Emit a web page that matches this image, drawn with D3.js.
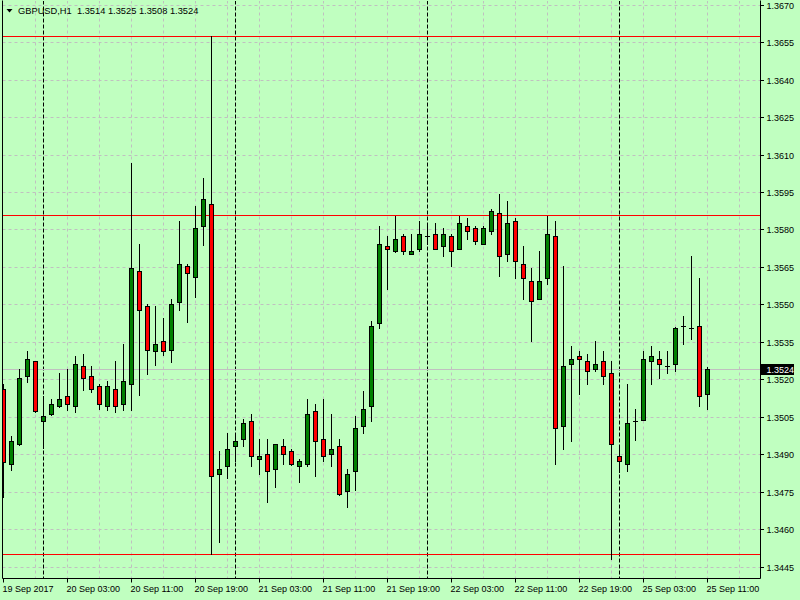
<!DOCTYPE html>
<html><head><meta charset="utf-8">
<script src="https://cdn.jsdelivr.net/npm/d3@7"></script>
<style>
html,body{margin:0;padding:0;background:#C0FFC0;}
svg{display:block;}
text{font-family:"Liberation Sans",Arial,sans-serif;font-size:9px;fill:#000;}
</style>
</head><body>
<svg id="chart" width="800" height="600"></svg>
<script>
const symbol = "GBPUSD,H1";
const startTime = new Date(2017, 8, 19, 19, 0);

const open = [
1.35161,1.34860,1.34940,1.35212,1.35272,1.35032,1.35060,1.35092,1.35132,1.35092,
1.35252,1.35212,1.35172,1.35092,1.35160,1.35100,1.35180,1.35633,1.35493,1.35312,
1.35352,1.35319,1.35511,1.35653,1.35611,1.35813,1.35901,1.34820,1.34852,1.34932,
1.34960,1.35033,1.34880,1.34900,1.34840,1.34932,1.34912,1.34852,1.34860,1.35072,
1.34960,1.34900,1.34932,1.34752,1.34832,1.35012,1.35092,1.35425,1.35733,1.35713,
1.35773,1.35701,1.35721,1.35773,1.35782,1.35733,1.35773,1.35721,1.35813,1.35805,
1.35741,1.35793,1.35865,1.35701,1.35833,1.35661,1.35593,1.35521,1.35605,1.35773,
1.35012,1.35260,1.35292,1.35272,1.35240,1.35272,1.35224,1.34892,1.34860,1.35032,
1.35039,1.35272,1.35280,1.35252,1.35260,1.35413,1.35405,1.35413,1.35140
];
const high = [
1.35182,1.34973,1.35240,1.35314,1.35274,1.35133,1.35120,1.35225,1.35242,1.35294,
1.35302,1.35254,1.35182,1.35192,1.35274,1.35342,1.36065,1.35741,1.35501,1.35493,
1.35445,1.35521,1.35834,1.35661,1.35893,1.36005,1.36575,1.34912,1.34984,1.34980,
1.35040,1.35061,1.34960,1.34960,1.34942,1.34960,1.34920,1.34880,1.35121,1.35101,
1.35121,1.35061,1.34960,1.34840,1.35053,1.35153,1.35434,1.35814,1.35774,1.35854,
1.35782,1.35782,1.35834,1.35826,1.35826,1.35805,1.35782,1.35854,1.35846,1.35813,
1.35814,1.35882,1.35942,1.35914,1.35846,1.35733,1.35645,1.35713,1.35854,1.35833,
1.35653,1.35332,1.35312,1.35300,1.35352,1.35312,1.35272,1.34932,1.35180,1.35080,
1.35312,1.35332,1.35312,1.35312,1.35408,1.35453,1.35694,1.35605,1.35250
];
const low = [
1.34729,1.34838,1.34938,1.35191,1.35070,1.34924,1.35058,1.35090,1.35079,1.35071,
1.35159,1.35151,1.35080,1.35079,1.35071,1.35079,1.35079,1.35139,1.35223,1.35259,
1.35299,1.35271,1.35479,1.35431,1.35531,1.35739,1.34500,1.34550,1.34804,1.34872,
1.34932,1.34852,1.34820,1.34710,1.34770,1.34860,1.34858,1.34790,1.34852,1.34812,
1.34872,1.34852,1.34738,1.34690,1.34758,1.34984,1.35033,1.35405,1.35561,1.35711,
1.35701,1.35700,1.35713,1.35741,1.35720,1.35693,1.35653,1.35720,1.35761,1.35741,
1.35740,1.35781,1.35613,1.35673,1.35605,1.35521,1.35352,1.35520,1.35581,1.34860,
1.34920,1.34952,1.35140,1.35180,1.35232,1.35180,1.34480,1.34828,1.34832,1.34958,
1.35038,1.35180,1.35204,1.35224,1.35232,1.35340,1.35360,1.35092,1.35080
];
const close = [
1.34870,1.34953,1.35204,1.35280,1.35072,1.35052,1.35100,1.35120,1.35100,1.35260,
1.35204,1.35160,1.35100,1.35172,1.35092,1.35192,1.35645,1.35479,1.35319,1.35340,
1.35312,1.35501,1.35661,1.35625,1.35805,1.35921,1.34812,1.34840,1.34920,1.34952,
1.35024,1.34892,1.34892,1.34832,1.34940,1.34900,1.34860,1.34872,1.35060,1.34952,
1.34892,1.34920,1.34740,1.34820,1.35004,1.35080,1.35414,1.35741,1.35721,1.35761,
1.35713,1.35713,1.35782,1.35773,1.35721,1.35782,1.35713,1.35826,1.35793,1.35753,
1.35805,1.35873,1.35693,1.35826,1.35673,1.35605,1.35513,1.35593,1.35781,1.35004,
1.35252,1.35280,1.35280,1.35232,1.35260,1.35212,1.34940,1.34872,1.35024,1.35032,
1.35280,1.35292,1.35260,1.35252,1.35405,1.35413,1.35405,1.35132,1.35240
];

const priceTicks = [1.3445,1.3460,1.3475,1.3490,1.3505,1.3520,1.3535,1.3550,1.3565,1.3580,1.3595,1.3610,1.3625,1.3640,1.3655,1.3670];
const timeTickLabels = ["19 Sep 2017","20 Sep 03:00","20 Sep 11:00","20 Sep 19:00","21 Sep 03:00","21 Sep 11:00","21 Sep 19:00","22 Sep 03:00","22 Sep 11:00","22 Sep 19:00","25 Sep 03:00","25 Sep 11:00"];
const levelLines = [1.36575, 1.35857, 1.34500];

const n = open.length;
const svg = d3.select("#chart");
const plotL = 2.5, plotR = 760.5, plotT = 0.5, plotB = 578.5;

// bar times (hourly, skipping weekends)
const times = [];
let t = new Date(startTime);
while (times.length < n) {
  const dw = t.getDay();
  if (dw !== 0 && dw !== 6) times.push(new Date(t));
  t = d3.timeHour.offset(t, 1);
}

const x = d3.scaleLinear().domain([0, n - 1]).range([3.5, 3.5 + 8 * (n - 1)]);
const y = d3.scaleLinear().domain(d3.extent(priceTicks)).range([566.7, 4.7]);
const snap = v => Math.round(v) + 0.5;

svg.append("rect").attr("width", 800).attr("height", 600).attr("fill", "#C0FFC0");

svg.append("defs").append("clipPath").attr("id", "clip")
  .append("rect").attr("x", 3).attr("y", 1).attr("width", plotR - 3.5).attr("height", plotB - 1.5);

const grid = svg.append("g").attr("clip-path", "url(#clip)");
// horizontal grid
grid.selectAll("line.hg").data(priceTicks).join("line")
  .attr("x1", plotL).attr("x2", plotR)
  .attr("y1", d => snap(y(d))).attr("y2", d => snap(y(d)))
  .attr("stroke", "#C0C0C0").attr("stroke-dasharray", "3,3");
// vertical grid every 4 bars
const vgIdx = d3.range(4, n + 8, 4).filter(i => x(i) < plotR);
grid.selectAll("line.vg").data(vgIdx).join("line")
  .attr("x1", d => x(d)).attr("x2", d => x(d))
  .attr("y1", plotT).attr("y2", plotB)
  .attr("stroke", "#C0C0C0").attr("stroke-dasharray", "3,3");
// day separators
const sepIdx = d3.range(1, n).filter(i => times[i].getHours() === 0);
grid.selectAll("line.sep").data(sepIdx).join("line")
  .attr("x1", d => x(d)).attr("x2", d => x(d))
  .attr("y1", plotT).attr("y2", plotB)
  .attr("stroke", "#000").attr("stroke-dasharray", "4,2");
// level lines
grid.selectAll("line.lvl").data(levelLines).join("line")
  .attr("x1", plotL).attr("x2", plotR)
  .attr("y1", d => snap(y(d))).attr("y2", d => snap(y(d)))
  .attr("stroke", "#FF0000");
// bid line
const lastClose = close[n - 1];
grid.append("line").attr("x1", plotL).attr("x2", plotR)
  .attr("y1", snap(y(lastClose))).attr("y2", snap(y(lastClose)))
  .attr("stroke", "#C0C0C0");

// candles
const cg = svg.append("g").attr("clip-path", "url(#clip)");
for (let i = 0; i < n; i++) {
  const cx = x(i);
  const yh = Math.round(y(high[i])), yl = Math.round(y(low[i]));
  cg.append("line").attr("x1", cx).attr("x2", cx).attr("y1", yh).attr("y2", yl + 1)
    .attr("stroke", "#000").attr("shape-rendering", "crispEdges");
  const yo = Math.round(y(open[i])), yc = Math.round(y(close[i]));
  if (yo === yc) {
    cg.append("line").attr("x1", cx - 2.5).attr("x2", cx + 2.5).attr("y1", yo + 0.5).attr("y2", yo + 0.5)
      .attr("stroke", "#000");
  } else {
    const top = Math.min(yo, yc), bot = Math.max(yo, yc);
    cg.append("rect").attr("x", cx - 2).attr("y", top + 0.5).attr("width", 4).attr("height", bot - top)
      .attr("fill", close[i] > open[i] ? "#008000" : "#FF0000").attr("stroke", "#000");
  }
}

// frame
svg.append("path").attr("d", `M${plotL},${plotT}V${plotB}H${plotR}V${plotT}`)
  .attr("fill", "none").attr("stroke", "#000");

// right axis
const fmt = d3.format(".4f");
const ra = svg.append("g");
priceTicks.forEach(p => {
  const yy = snap(y(p));
  ra.append("line").attr("x1", plotR).attr("x2", plotR + 3.5).attr("y1", yy).attr("y2", yy).attr("stroke", "#000");
  ra.append("text").attr("x", 766.5).attr("y", yy + 3.5).text(fmt(p));
});
// current price box
const yb = snap(y(lastClose));
ra.append("rect").attr("x", 761).attr("y", yb - 5.5).attr("width", 33).attr("height", 11).attr("fill", "#000");
ra.append("text").attr("x", 766.5).attr("y", yb + 3.5).style("fill", "#fff").text(fmt(lastClose));

// bottom axis
const tIdx = d3.range(0, n, 8);
const ba = svg.append("g");
tIdx.forEach((ti, k) => {
  const xx = x(ti);
  ba.append("line").attr("x1", xx).attr("x2", xx).attr("y1", plotB).attr("y2", plotB + 4).attr("stroke", "#000");
  ba.append("text").attr("x", xx - 1).attr("y", 592).text(timeTickLabels[k]);
});

// title
svg.append("path").attr("d", "M6.5,9 L12.5,9 L9.5,12.5 Z").attr("fill", "#000");
svg.append("text").attr("x", 18).attr("y", 14).style("font-size", "9.3px")
  .text(`${symbol}  ${fmt(open[n-1])} ${fmt(high[n-1])} ${fmt(low[n-1])} ${fmt(close[n-1])}`)
  .attr("xml:space", "preserve").style("white-space", "pre");
</script>
</body></html>
